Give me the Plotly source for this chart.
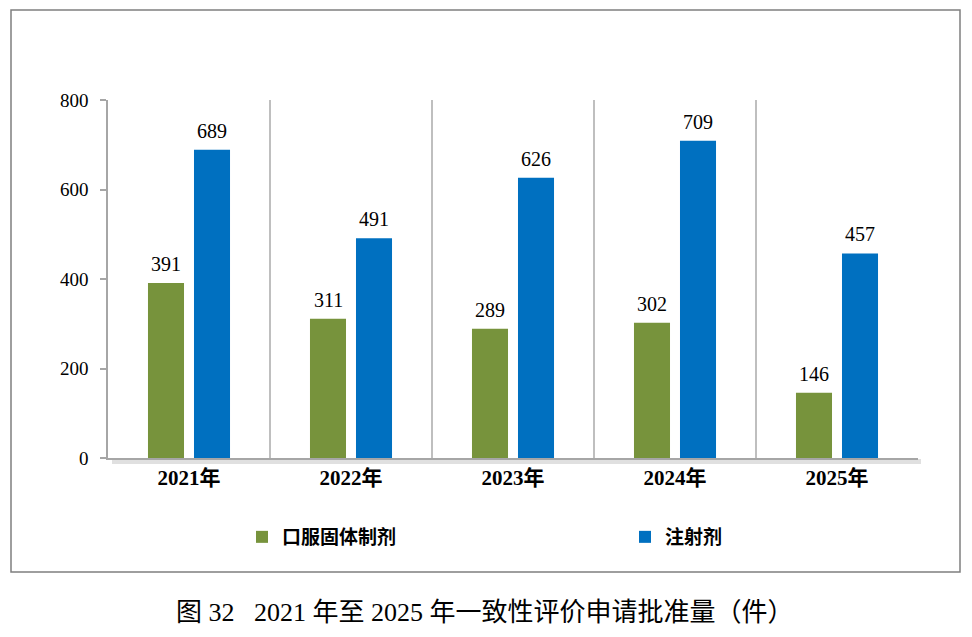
import plotly.graph_objects as go

categories = ["2021年", "2022年", "2023年", "2024年", "2025年"]
oral_solid = [391, 311, 289, 302, 146]
injection = [689, 491, 626, 709, 457]
series_names = ["口服固体制剂", "注射剂"]
y_ticks = [0, 200, 400, 600, 800]
caption = "图 32   2021 年至 2025 年一致性评价申请批准量（件）"

W, H = 972, 637
L, R, T, B = 108, 918, 100, 458  # plot area in pixels


def px(p):
    return (p - L) / (R - L)


def py(p):
    return (B - p) / (B - T)


SERIF = "Liberation Serif, Times New Roman, Noto Sans CJK SC, serif"
COLORS = ["#77933C", "#0070C0"]
BAR_SHIFT = 23  # pixel offset of each bar centre from the category centre

fig = go.Figure()
for i, (name, vals) in enumerate(zip(series_names, [oral_solid, injection])):
    fig.add_trace(go.Bar(
        x=categories, y=vals, name=name,
        marker=dict(color=COLORS[i], line=dict(width=0)),
        legend="legend" if i == 0 else "legend2",
    ))

annotations = []
for i, vals in enumerate([oral_solid, injection]):
    for c, v in zip(categories, vals):
        annotations.append(dict(
            x=c, y=v, xref="x", yref="y", text=str(v), showarrow=False,
            xanchor="center", yanchor="bottom",
            xshift=(-BAR_SHIFT if i == 0 else BAR_SHIFT), yshift=6,
            font=dict(family=SERIF, size=20, color="#000000"),
        ))
annotations.append(dict(
    text=caption, xref="paper", yref="paper",
    x=px(485), y=py(612), xanchor="center", yanchor="middle",
    showarrow=False,
    font=dict(family="Liberation Serif, Noto Sans CJK SC, serif", size=26, color="#000000"),
))

shapes = [
    # outer frame
    dict(type="rect", xref="paper", yref="paper",
         x0=px(11), x1=px(960), y0=py(572), y1=py(10),
         line=dict(color="#7F7F7F", width=1.5), layer="below"),
    # shadow under the x axis
    dict(type="rect", xref="paper", yref="paper",
         x0=px(112), x1=px(921), y0=py(464), y1=py(459),
         line=dict(width=0), fillcolor="rgba(0,0,0,0.12)", layer="below"),
]

legend_font = dict(family="Liberation Serif, Noto Sans CJK SC, serif", size=19,
                   color="#000000", weight="bold")

fig.update_layout(
    width=W, height=H,
    margin=dict(l=L, r=W - R, t=T, b=H - B),
    paper_bgcolor="white", plot_bgcolor="white",
    barmode="group", bargap=0.432, bargroupgap=0.217,
    font=dict(family=SERIF, color="#000000"),
    showlegend=True,
    legend=dict(
        orientation="h", x=px(242), y=py(537), xanchor="left", yanchor="middle",
        font=legend_font, itemwidth=30, bgcolor="rgba(0,0,0,0)",
    ),
    legend2=dict(
        orientation="h", x=px(625), y=py(537), xanchor="left", yanchor="middle",
        font=legend_font, itemwidth=30, bgcolor="rgba(0,0,0,0)",
    ),
    xaxis=dict(
        type="category", tickson="boundaries", showgrid=True,
        gridcolor="#BFBFBF", gridwidth=2,
        showline=True, linecolor="#A6A6A6", linewidth=2,
        ticks="", ticklen=0,
        tickfont=dict(family=SERIF, size=21, color="#000000", weight="bold"),
        range=[-0.5, 4.5], fixedrange=True,
    ),
    yaxis=dict(
        range=[0, 800], tickvals=y_ticks, showgrid=False, zeroline=False,
        showline=True, linecolor="#A6A6A6", linewidth=1.5,
        ticks="outside", ticklen=6, tickcolor="#A6A6A6", tickwidth=1.5,
        tickfont=dict(family=SERIF, size=19, color="#000000"),
        ticklabelstandoff=8,
    ),
    shapes=shapes,
    annotations=annotations,
)

fig.write_html("out.html")
